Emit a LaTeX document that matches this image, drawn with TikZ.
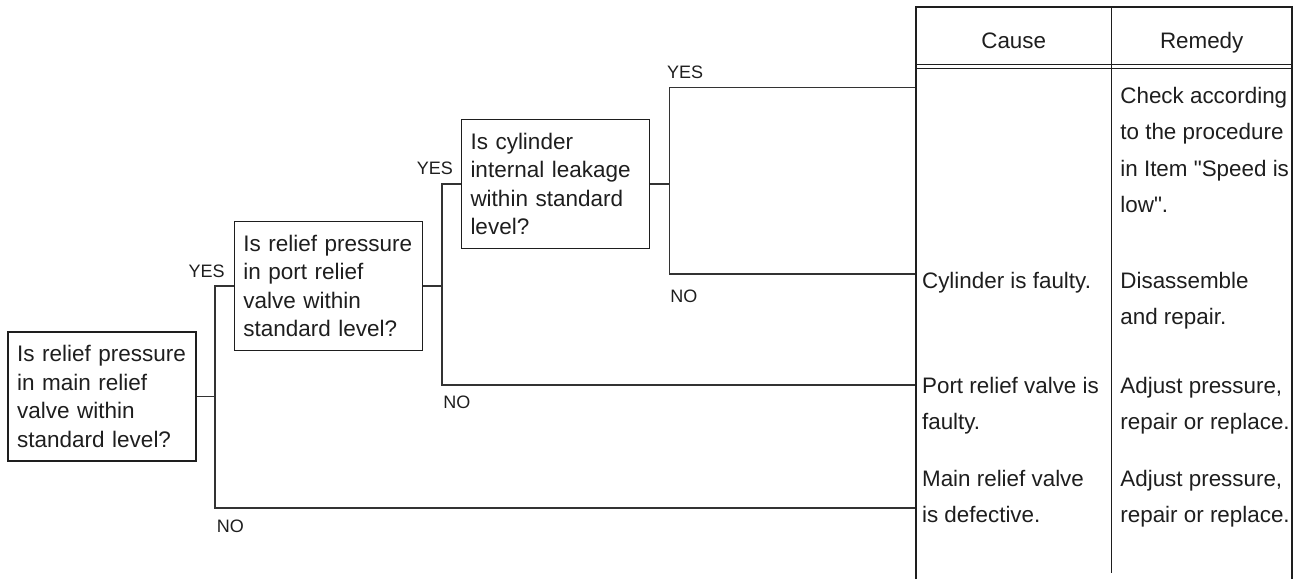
\documentclass[tikz,border=0pt]{standalone}
\usepackage{fontspec}
\setmainfont{Liberation Sans}[Ligatures=TeXOff]
\definecolor{ink}{HTML}{1E1E1E}
\definecolor{linec}{HTML}{333333}
\begin{document}
\begin{tikzpicture}[x=0.5pt,y=-0.5pt,
  conn/.style={draw=linec, line width=0.55pt},
  qbox/.style={draw=ink, line width=0.75pt, minimum width=94pt, minimum height=64.5pt,
    text width=85pt, inner xsep=4.5pt, inner ysep=0pt, align=left,
    font=\fontsize{11.25pt}{14.25pt}\selectfont, text=ink},
  cell/.style={inner sep=0pt, align=left, anchor=base west,
    font=\fontsize{11.2pt}{18.25pt}\selectfont, text=ink},
  head/.style={inner sep=0pt, anchor=base, font=\fontsize{11.2pt}{13pt}\selectfont, text=ink},
  lab/.style={inner sep=0pt, font=\fontsize{9pt}{11pt}\selectfont, text=ink},
  tabline/.style={draw=ink, line width=0.85pt},
  thinline/.style={draw=ink, line width=0.5pt}]

\useasboundingbox (0,0) rectangle (1308,579);

% question boxes
\node[qbox] (q1) at (102.2,396.5) {Is relief pressure\\in main relief\\valve within\\standard level?};
\node[qbox] (q2) at (328.3,286) {Is relief pressure\\in port relief\\valve within\\standard level?};
\node[qbox] (q3) at (555.5,184) {Is cylinder\\internal leakage\\within standard\\level?};

% junctions and table entry points
\coordinate (j1) at (215,396.5);
\coordinate (j2) at (442,286);
\coordinate (j3) at (669.3,184);
\coordinate (tCheck) at (915.7,87.3);
\coordinate (tCyl) at (915.7,274);
\coordinate (tPort) at (915.7,385);
\coordinate (tMain) at (915.7,508);

% connectors
\draw[conn] (q1.east) -- (j1);
\draw[conn] (j1) |- (q2.west);
\draw[conn] (j1) |- (tMain);
\draw[conn] (q2.east) -- (j2);
\draw[conn] (j2) |- (q3.west);
\draw[conn] (j2) |- (tPort);
\draw[conn] (q3.east) -- (j3);
\draw[conn] (j3) |- (tCheck);
\draw[conn] (j3) |- (tCyl);

% labels
\node[lab, anchor=base east] (y1) at (225,277) {YES};
\node[lab, anchor=base east] (y2) at (453.3,174.3) {YES};
\node[lab, anchor=base west] (y3) at (666.7,78.7) {YES};
\node[lab, anchor=base west] (n3) at (670,302) {NO};
\node[lab, anchor=base west] (n2) at (443,408.7) {NO};
\node[lab, anchor=base west] (n1) at (216.5,532.5) {NO};

% table
\draw[tabline] (915.7,579) -- (915.7,7.3) -- (1291.7,7.3) -- (1291.7,579);
\draw[thinline] (1111.7,7.3) -- (1111.7,573);
\draw[thinline] (915.7,64) -- (1291.7,64);
\draw[thinline] (915.7,68.3) -- (1291.7,68.3);

\node[head] (hc) at (1013.7,48) {Cause};
\node[head] (hr) at (1201.7,48) {Remedy};

% cells: anchor is the baseline of the last line
\node[cell] (c1) at (921.7,288) {Cylinder is faulty.};
\node[cell] (c2) at (921.7,429.5) {Port relief valve is\\faulty.};
\node[cell] (c3) at (921.7,522.8) {Main relief valve\\is defective.};
\node[cell] (r0) at (1120,212.5) {Check according\\to the procedure\\in Item "Speed is\\low".};
\node[cell] (r1) at (1120,324.5) {Disassemble\\and repair.};
\node[cell] (r2) at (1120,429.5) {Adjust pressure,\\repair or replace.};
\node[cell] (r3) at (1120,522.8) {Adjust pressure,\\repair or replace.};
\end{tikzpicture}
\end{document}
